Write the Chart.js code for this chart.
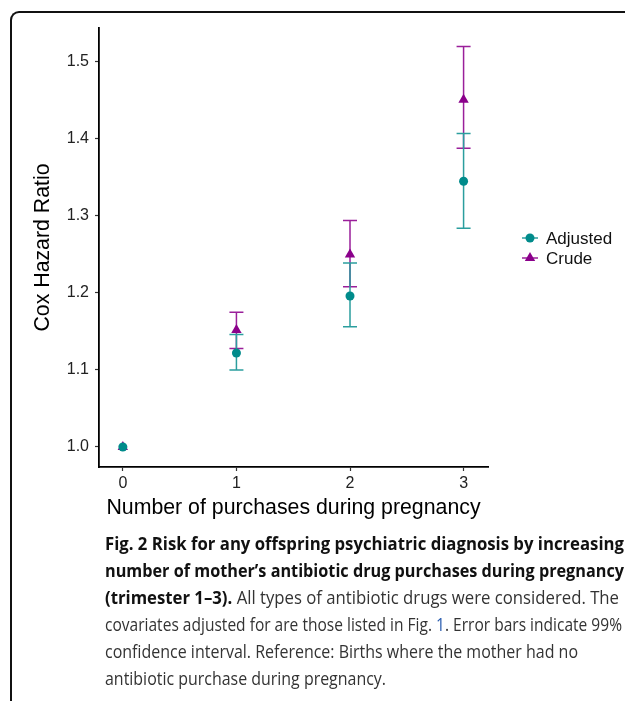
<!DOCTYPE html>
<html>
<head>
<meta charset="utf-8">
<script src="https://cdn.jsdelivr.net/npm/chart.js@4/dist/chart.umd.min.js"></script>
<style>
  html,body{margin:0;padding:0;background:#fff;}
  #page{position:relative;width:625px;height:701px;overflow:hidden;background:#fff;}
  #frame{position:absolute;left:10px;top:11px;width:640px;height:720px;border-top:2px solid #111;border-left:2px solid #111;border-top-left-radius:9px;}
  #plot{position:absolute;left:0;top:0;}
  #caption{position:absolute;left:105px;top:529px;font-family:"Open Sans",sans-serif;font-size:18.5px;line-height:27px;color:#333;}
  #caption .ln{white-space:nowrap;display:block;width:max-content;transform-origin:0 50%;}
  #caption b{color:#111;font-weight:700;}
  #caption .ref{color:#2a5db0;}
</style>
</head>
<body>
<div id="page">
  <div id="frame"></div>
  <canvas id="plot" width="625" height="530"></canvas>
  <div id="caption">
    <span class="ln" data-w="519"><b>Fig. 2 Risk for any offspring psychiatric diagnosis by increasing</b></span>
    <span class="ln" data-w="519"><b>number of mother’s antibiotic drug purchases during pregnancy</b></span>
    <span class="ln" data-w="514"><b>(trimester 1–3).</b> All types of antibiotic drugs were considered. The</span>
    <span class="ln" data-w="517">covariates adjusted for are those listed in Fig. <span class="ref">1</span>. Error bars indicate 99%</span>
    <span class="ln" data-w="473">confidence interval. Reference: Births where the mother had no</span>
    <span class="ln" data-w="281">antibiotic purchase during pregnancy.</span>
  </div>
</div>
<script>
// values
const purchases = [0, 1, 2, 3];
const adjusted   = [1.000, 1.122, 1.196, 1.345];
const adjustedLo = [null, 1.100, 1.156, 1.284];
const adjustedHi = [null, 1.146, 1.239, 1.407];
const crude   = [1.000, 1.152, 1.250, 1.451];
const crudeLo = [null, 1.128, 1.208, 1.388];
const crudeHi = [null, 1.175, 1.294, 1.520];
const yTicks = [1.0, 1.1, 1.2, 1.3, 1.4, 1.5];

const axisFont = '"Liberation Sans", Arial, sans-serif';

// vertical error bars with caps, drawn under the points
const errorBars = {
  id: 'errorBars',
  beforeDatasetsDraw(chart){
    const {ctx, scales:{x, y}} = chart;
    const sets = chart.data.datasets.slice().reverse();
    sets.forEach(ds => {
      ctx.save();
      ctx.strokeStyle = ds.barColor;
      ctx.lineWidth = 1.5;
      ds.lo.forEach((lo, i) => {
        if (lo == null) return;
        const px = x.getPixelForValue(purchases[i]);
        const top = y.getPixelForValue(ds.hi[i]);
        const bot = y.getPixelForValue(lo);
        ctx.beginPath();
        ctx.moveTo(px, top); ctx.lineTo(px, bot);
        ctx.moveTo(px - 7, top); ctx.lineTo(px + 7, top);
        ctx.moveTo(px - 7, bot); ctx.lineTo(px + 7, bot);
        ctx.stroke();
      });
      ctx.restore();
    });
  }
};

// ggplot-like legend on the right
const sideLegend = {
  id: 'sideLegend',
  afterDraw(chart){
    const ctx = chart.ctx;
    chart.data.datasets.forEach((ds, i) => {
      const cy = 238 + i * 20, cx = 530;
      ctx.save();
      ctx.strokeStyle = ds.barColor; ctx.lineWidth = 1.5;
      ctx.beginPath(); ctx.moveTo(cx - 8, cy); ctx.lineTo(cx + 8, cy); ctx.stroke();
      ctx.fillStyle = ds.pointBackgroundColor;
      ctx.beginPath();
      if (ds.pointStyle === 'triangle'){
        const r = ds.pointRadius;
        ctx.moveTo(cx, cy - r);
        ctx.lineTo(cx + r * 0.866, cy + r / 2);
        ctx.lineTo(cx - r * 0.866, cy + r / 2);
        ctx.closePath();
      } else {
        ctx.arc(cx, cy, ds.pointRadius, 0, Math.PI * 2);
      }
      ctx.fill();
      ctx.fillStyle = '#111';
      ctx.font = '17px ' + axisFont;
      ctx.textAlign = 'left'; ctx.textBaseline = 'middle';
      ctx.fillText(ds.label, 546, cy + 1);
      ctx.restore();
    });
  }
};

new Chart(document.getElementById('plot'), {
  type: 'scatter',
  data: {
    datasets: [
      {
        label: 'Adjusted',
        data: purchases.map((p, i) => ({x: p, y: adjusted[i]})),
        lo: adjustedLo, hi: adjustedHi,
        pointStyle: 'circle', pointRadius: 4.5, pointBorderWidth: 0,
        pointBackgroundColor: '#008b8b', barColor: '#2b9e9e'
      },
      {
        label: 'Crude',
        data: purchases.map((p, i) => ({x: p, y: crude[i]})),
        lo: crudeLo, hi: crudeHi,
        pointStyle: 'triangle', pointRadius: 6, pointBorderWidth: 0,
        pointBackgroundColor: '#8b008b', barColor: '#9a1f9a'
      }
    ]
  },
  options: {
    responsive: false,
    animation: false,
    events: [],
    layout: { padding: { left: 0, top: 28, right: 137, bottom: 0 } },
    plugins: { legend: { display: false }, tooltip: { enabled: false } },
    scales: {
      x: {
        type: 'linear', min: -0.21, max: 3.215,
        afterBuildTicks: s => { s.ticks = purchases.map(v => ({value: v})); },
        afterFit: s => { s.height = 63; },
        ticks: { color: '#222', padding: 3, font: { family: axisFont, size: 16 }, callback: v => String(v) },
        grid: { drawOnChartArea: false, drawTicks: true, tickLength: 4, tickColor: '#333', tickWidth: 1.2 },
        border: { display: true, color: '#000', width: 1.8 },
        title: { display: true, text: 'Number of purchases during pregnancy', color: '#000',
                 font: { family: axisFont, size: 21.3 }, padding: { top: 0, bottom: 9 } }
      },
      y: {
        type: 'linear', min: 0.974, max: 1.544,
        afterBuildTicks: s => { s.ticks = yTicks.map(v => ({value: v})); },
        afterFit: s => { s.width = 99; },
        ticks: { color: '#222', padding: 6, font: { family: axisFont, size: 16 }, callback: v => v.toFixed(1) },
        grid: { drawOnChartArea: false, drawTicks: true, tickLength: 4, tickColor: '#333', tickWidth: 1.2 },
        border: { display: true, color: '#000', width: 1.8 },
        title: { display: true, text: 'Cox Hazard Ratio', color: '#000',
                 font: { family: axisFont, size: 21.3 }, padding: { top: 30, bottom: 0 } }
      }
    }
  },
  plugins: [errorBars, sideLegend]
});

// squeeze each caption line to the width it has in the figure
document.querySelectorAll('#caption .ln').forEach(el => {
  const target = Number(el.dataset.w);
  const w = el.getBoundingClientRect().width;
  if (w > 0) el.style.transform = 'scaleX(' + (target / w).toFixed(4) + ')';
});
</script>
</body>
</html>
